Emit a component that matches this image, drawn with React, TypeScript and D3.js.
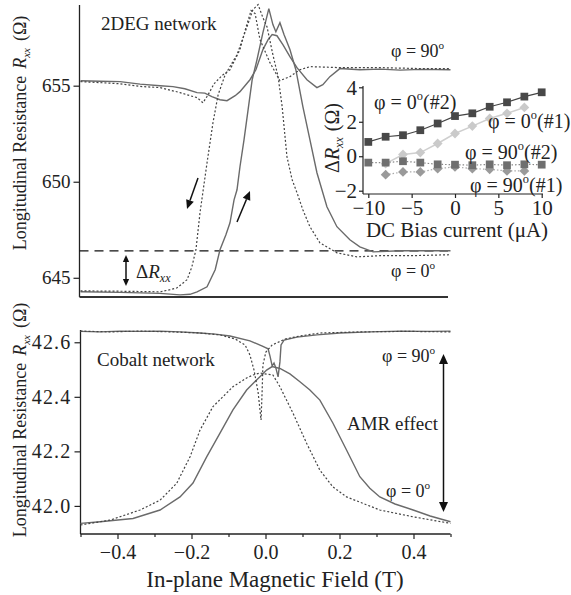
import React, { useEffect, useRef } from 'react';
import * as d3 from 'd3';

// ---- top panel (2DEG network), [B (T), Rxx (ohm)] ----
const top90Solid: [number, number][] = [
  [-0.5, 655.26], [-0.447, 655.23], [-0.393, 655.21], [-0.339, 655.08], [-0.285, 655.0],
  [-0.25, 654.95], [-0.218, 654.84], [-0.185, 654.64], [-0.164, 654.61], [-0.145, 654.43],
  [-0.123, 654.27], [-0.104, 654.22], [-0.082, 654.48], [-0.069, 654.69], [-0.042, 655.31],
  [-0.026, 655.83], [-0.007, 656.88], [0.007, 657.4], [0.018, 657.66], [0.031, 657.6],
  [0.047, 657.14], [0.066, 656.51], [0.085, 655.94], [0.112, 655.31], [0.139, 654.9],
  [0.155, 655.05], [0.174, 655.47], [0.201, 655.89], [0.255, 655.83], [0.31, 655.86],
  [0.364, 655.81], [0.42, 655.85], [0.5, 655.83],
];
const top90Dot: [number, number][] = [
  [-0.5, 655.21], [-0.447, 655.16], [-0.393, 655.1], [-0.339, 654.96], [-0.285, 654.9],
  [-0.231, 654.64], [-0.204, 654.48], [-0.185, 654.38], [-0.169, 654.11], [-0.155, 654.53],
  [-0.139, 655.1], [-0.118, 655.52], [-0.096, 655.83], [-0.069, 656.88], [-0.053, 658.02],
  [-0.039, 658.91], [-0.028, 658.75], [-0.015, 657.4], [0.012, 656.2], [0.039, 655.26],
  [0.066, 655.47], [0.093, 655.83], [0.12, 655.99], [0.201, 655.94], [0.309, 655.94],
  [0.418, 655.89], [0.5, 655.89],
];
const top0Dot: [number, number][] = [
  [-0.5, 644.32], [-0.393, 644.3], [-0.285, 644.27], [-0.258, 644.38], [-0.239, 644.48],
  [-0.212, 644.9], [-0.199, 645.57], [-0.188, 646.46], [-0.177, 648.39], [-0.158, 650.99],
  [-0.142, 653.07], [-0.128, 654.53], [-0.109, 655.57], [-0.077, 656.61], [-0.05, 658.07],
  [-0.034, 658.96], [-0.02, 659.22], [-0.007, 658.54], [0.004, 658.07], [0.02, 656.61],
  [0.034, 655.47], [0.045, 653.91], [0.058, 651.3], [0.072, 650.1], [0.085, 649.43],
  [0.101, 648.54], [0.12, 647.66], [0.147, 646.82], [0.193, 646.3], [0.247, 646.09],
  [0.309, 646.15], [0.39, 646.15], [0.5, 646.2],
];
const top0Solid: [number, number][] = [
  [-0.5, 644.27], [-0.393, 644.24], [-0.285, 644.19], [-0.231, 644.11], [-0.204, 644.14],
  [-0.185, 644.27], [-0.158, 644.53], [-0.136, 645.42], [-0.123, 646.46], [-0.107, 647.24],
  [-0.096, 647.86], [-0.085, 649.06], [-0.077, 649.58], [-0.069, 650.78], [-0.058, 652.19],
  [-0.047, 653.75], [-0.036, 655.31], [-0.023, 656.35], [-0.007, 657.76], [0.009, 659.01],
  [0.02, 658.18], [0.028, 657.81], [0.039, 658.28], [0.05, 657.66], [0.066, 656.88],
  [0.082, 655.83], [0.101, 653.91], [0.12, 652.19], [0.139, 650.47], [0.166, 648.7],
  [0.193, 647.66], [0.228, 646.98], [0.255, 646.61], [0.291, 646.35], [0.364, 646.41],
  [0.5, 646.41],
];
const deltaLevel = 646.4;

// ---- bottom panel (Cobalt network) ----
const bot90Solid: [number, number][] = [
  [-0.5, 42.64], [-0.447, 42.638], [-0.393, 42.641], [-0.339, 42.64], [-0.285, 42.641],
  [-0.231, 42.638], [-0.177, 42.634], [-0.136, 42.63], [-0.096, 42.623], [-0.042, 42.605],
  [-0.007, 42.585], [0.007, 42.576], [0.012, 42.55], [0.018, 42.513], [0.023, 42.524],
  [0.028, 42.506], [0.034, 42.473], [0.039, 42.528], [0.042, 42.59], [0.05, 42.608],
  [0.085, 42.619], [0.139, 42.627], [0.201, 42.634], [0.282, 42.638], [0.364, 42.641],
  [0.445, 42.64], [0.5, 42.641],
];
const bot90Dot: [number, number][] = [
  [-0.5, 42.641], [-0.42, 42.638], [-0.339, 42.641], [-0.25, 42.638], [-0.177, 42.634],
  [-0.123, 42.627], [-0.082, 42.612], [-0.055, 42.59], [-0.042, 42.553], [-0.031, 42.498],
  [-0.02, 42.417], [-0.012, 42.315], [-0.009, 42.425], [-0.007, 42.517], [0.001, 42.564],
  [0.018, 42.59], [0.053, 42.612], [0.093, 42.623], [0.147, 42.634], [0.255, 42.638],
  [0.38, 42.64], [0.5, 42.638],
];
const bot0Solid: [number, number][] = [
  [-0.5, 41.936], [-0.447, 41.942], [-0.358, 41.954], [-0.285, 41.985], [-0.231, 42.033],
  [-0.196, 42.084], [-0.159, 42.18], [-0.123, 42.267], [-0.088, 42.352], [-0.051, 42.425],
  [-0.015, 42.474], [0.003, 42.498], [0.018, 42.511], [0.039, 42.504], [0.066, 42.484],
  [0.093, 42.455], [0.12, 42.425], [0.147, 42.388], [0.182, 42.304], [0.219, 42.205],
  [0.255, 42.107], [0.282, 42.065], [0.309, 42.033], [0.35, 42.007], [0.399, 41.985],
  [0.445, 41.963], [0.5, 41.942],
];
const bot0Dot: [number, number][] = [
  [-0.5, 41.93], [-0.42, 41.948], [-0.339, 41.985], [-0.285, 42.021], [-0.24, 42.083],
  [-0.204, 42.18], [-0.177, 42.278], [-0.142, 42.364], [-0.088, 42.437], [-0.051, 42.469],
  [-0.034, 42.48], [-0.015, 42.487], [0.02, 42.48], [0.039, 42.437], [0.074, 42.341],
  [0.111, 42.23], [0.147, 42.131], [0.182, 42.07], [0.219, 42.033], [0.309, 41.985],
  [0.399, 41.96], [0.5, 41.936],
];

// ---- inset: Delta Rxx vs DC bias ----
const biasAll = [-10, -8, -6, -4, -2, 0, 2, 4, 6, 8, 10];
const biasInner = [-8, -6, -4, -2, 0, 2, 4, 6, 8];
const phi0n2 = [0.83, 1.13, 1.22, 1.51, 1.9, 2.33, 2.49, 2.87, 3.13, 3.46, 3.71];
const phi0n1 = [-0.43, 0.1, 0.21, 0.74, 1.32, 1.75, 2.19, 2.49, 2.83];
const phi90n2 = [-0.37, -0.37, -0.29, -0.37, -0.47, -0.49, -0.52, -0.47, -0.52, -0.47, -0.49];
const phi90n1 = [-1.07, -0.91, -0.91, -0.72, -0.62, -0.72, -0.76, -0.85, -0.85];

const font = '"Liberation Serif", "Times New Roman", serif';

const xMain = d3.scaleLinear().domain([-0.5, 0.5]).range([80.5, 450.5]);
const yTop = d3.scaleLinear().domain([644, 659.2]).range([297, 5]);
const yBot = d3.scaleLinear().domain([41.897, 42.645]).range([534, 330]);
const xIn = d3.scaleLinear().domain([-10, 10]).range([368.3, 541.7]);
const yIn = d3.scaleLinear().domain([-2, 4]).range([190.7, 87.3]);

const topLine = d3.line<[number, number]>().x((d) => xMain(d[0])).y((d) => yTop(d[1]));
const botLine = d3.line<[number, number]>().x((d) => xMain(d[0])).y((d) => yBot(d[1]));
const inLine = d3.line<[number, number]>().x((d) => xIn(d[0])).y((d) => yIn(d[1]));

const zip = (xs: number[], ys: number[]) => xs.map((x, i) => [x, ys[i]] as [number, number]);

function Phi({ x, y, angle, suffix, size }: { x: number; y: number; angle: string; suffix?: string; size: number }) {
  return (
    <text x={x} y={y} fontSize={size}>
      φ = {angle}
      <tspan dy={-0.45 * size} fontSize={size * 0.62}>o</tspan>
      {suffix ? <tspan dy={0.45 * size} fontSize={size}>{suffix}</tspan> : null}
    </text>
  );
}

function Arrow({ x1, y1, x2, y2, head = 9 }: { x1: number; y1: number; x2: number; y2: number; head?: number }) {
  const a = Math.atan2(y2 - y1, x2 - x1);
  const w = head * 0.45;
  const bx = x2 - head * Math.cos(a);
  const by = y2 - head * Math.sin(a);
  const p = `M${x2},${y2}L${bx + w * Math.sin(a)},${by - w * Math.cos(a)}L${bx - w * Math.sin(a)},${by + w * Math.cos(a)}Z`;
  return (
    <g>
      <line x1={x1} y1={y1} x2={bx} y2={by} stroke="#111" strokeWidth={1.5} />
      <path d={p} fill="#111" />
    </g>
  );
}

export default function App() {
  const ref = useRef<SVGGElement>(null);

  useEffect(() => {
    const g = d3.select(ref.current);
    const style = (sel: any, size: number) => {
      sel.selectAll('.domain').remove();
      sel.selectAll('line').attr('stroke', '#222').attr('stroke-width', 1.2);
      sel.selectAll('text').attr('font-family', font).attr('font-size', size).attr('fill', '#222');
    };
    const yt = g.select('.y-top').call(
      d3.axisLeft(yTop).tickValues([645, 650, 655]).tickSize(6).tickPadding(3).tickFormat(d3.format('d')) as any
    );
    style(yt, 19);
    const yb = g.select('.y-bot').call(
      d3.axisLeft(yBot).tickValues([42.0, 42.2, 42.4, 42.6]).tickSize(6).tickPadding(3).tickFormat(d3.format('.1f')) as any
    );
    style(yb, 20);
    yb.selectAll('text').attr('letter-spacing', 1.2);
    const xb = g.select('.x-bot').call(
      d3.axisBottom(xMain).tickValues([-0.4, -0.2, 0, 0.2, 0.4]).tickSize(5).tickPadding(6).tickFormat(d3.format('.1f')) as any
    );
    style(xb, 20);
    const xm = g.select('.x-minor').call(
      d3.axisBottom(xMain).tickValues([-0.5, -0.3, -0.1, 0.1, 0.3, 0.5]).tickSize(3).tickFormat(() => '') as any
    );
    style(xm, 10);
    const yi = g.select('.y-in').call(
      d3.axisLeft(yIn).tickValues([-2, 0, 2, 4]).tickSize(4).tickPadding(2).tickFormat(d3.format('d')) as any
    );
    style(yi, 21);
    const xi = g.select('.x-in').call(
      d3.axisBottom(xIn).tickValues([-10, -5, 0, 5, 10]).tickSize(4).tickPadding(2).tickFormat(d3.format('d')) as any
    );
    style(xi, 21);
  }, []);

  const curve = '#6a6a6a';
  const sq = d3.symbol().type(d3.symbolSquare).size(60)();
  const dm = d3.symbol().type(d3.symbolSquare).size(48)();

  return (
    <svg width={571} height={595} style={{ position: 'absolute', left: 0, top: 0, background: '#fff' }}
      fontFamily={font} fill="#222">
      <g ref={ref}>
        <g className="y-top" transform={`translate(${xMain(-0.5) - 1},0)`} />
        <g className="y-bot" transform={`translate(${xMain(-0.5)},0)`} />
        <g className="x-bot" transform="translate(0,534)" />
        <g className="x-minor" transform="translate(0,534)" />
        <g className="y-in" transform="translate(363,0)" />
        <g className="x-in" transform="translate(0,194)" />
      </g>

      {/* top panel frame */}
      <line x1={xMain(-0.5) - 1} x2={xMain(-0.5) - 1} y1={5} y2={297} stroke="#222" strokeWidth={1.3} />
      <line x1={xMain(-0.5) - 1} x2={448} y1={297} y2={297} stroke="#333" strokeWidth={1.8} />
      <line x1={xMain(-0.5) - 1} x2={448} y1={yTop(deltaLevel)} y2={yTop(deltaLevel)} stroke="#111"
        strokeWidth={1.2} strokeDasharray="9 6" />

      <g fill="none" strokeWidth={1.4}>
        <path d={topLine(top90Solid)!} stroke={curve} />
        <path d={topLine(top0Solid)!} stroke={curve} />
        <path d={topLine(top90Dot)!} stroke="#444" strokeDasharray="2 2" strokeWidth={1.2} />
        <path d={topLine(top0Dot)!} stroke="#444" strokeDasharray="2 2" strokeWidth={1.2} />
      </g>

      <text x={101} y={30} fontSize={19}>2DEG network</text>
      <Phi x={391} y={57} angle="90" size={18} />
      <Phi x={391} y={277} angle="0" size={18} />
      <Arrow x1={198} y1={178} x2={187} y2={209} />
      <Arrow x1={237} y1={222} x2={250} y2={191} />
      <Arrow x1={126} y1={270} x2={126} y2={255} head={7} />
      <Arrow x1={126} y1={270} x2={126} y2={286} head={7} />
      <text x={136} y={278} fontSize={19}>
        Δ<tspan fontStyle="italic">R</tspan>
        <tspan fontStyle="italic" fontSize={12} dy={4}>xx</tspan>
      </text>

      <text transform="translate(26,133) rotate(-90)" textAnchor="middle" fontSize={18}>
        Longitudinal Resistance
        <tspan dx={7} fontStyle="italic">R</tspan>
        <tspan fontStyle="italic" fontSize={11} dy={4}>xx</tspan>
        <tspan dx={7} dy={-4}>(Ω)</tspan>
      </text>

      {/* inset */}
      <line x1={363} x2={363} y1={86} y2={194} stroke="#222" strokeWidth={1.2} />
      <line x1={363} x2={543} y1={194} y2={194} stroke="#222" strokeWidth={1.2} />
      <g fill="none" strokeWidth={1.2}>
        <path d={inLine(zip(biasAll, phi0n2))!} stroke="#444" />
        <path d={inLine(zip(biasInner, phi0n1))!} stroke="#cfcfcf" strokeWidth={1.5} />
        <path d={inLine(zip(biasAll, phi90n2))!} stroke="#888" strokeDasharray="1.5 2" />
        <path d={inLine(zip(biasInner, phi90n1))!} stroke="#aaa" strokeDasharray="1.5 2" />
      </g>
      {zip(biasInner, phi0n1).map((d, i) => (
        <path key={'a' + i} d={dm!} transform={`translate(${xIn(d[0])},${yIn(d[1])}) rotate(45)`} fill="#cacaca" />
      ))}
      {zip(biasInner, phi90n1).map((d, i) => (
        <path key={'b' + i} d={dm!} transform={`translate(${xIn(d[0])},${yIn(d[1])}) rotate(45)`} fill="#9a9a9a" />
      ))}
      {zip(biasAll, phi90n2).map((d, i) => (
        <path key={'c' + i} d={sq!} transform={`translate(${xIn(d[0])},${yIn(d[1])})`} fill="#6f6f6f" />
      ))}
      {zip(biasAll, phi0n2).map((d, i) => (
        <path key={'e' + i} d={sq!} transform={`translate(${xIn(d[0])},${yIn(d[1])})`} fill="#484848" />
      ))}
      <Phi x={374} y={109} angle="0" suffix="(#2)" size={20} />
      <Phi x={488} y={128} angle="0" suffix="(#1)" size={20} />
      <Phi x={465} y={159} angle="90" suffix="(#2)" size={20} />
      <Phi x={470} y={192} angle="90" suffix="(#1)" size={20} />
      <text x={457} y={237} fontSize={21} textAnchor="middle">DC Bias current (μA)</text>
      <text transform="translate(339,138) rotate(-90)" textAnchor="middle" fontSize={20}>
        Δ<tspan fontStyle="italic">R</tspan>
        <tspan fontStyle="italic" fontSize={12} dy={4}>xx</tspan>
        <tspan dx={6} dy={-4}>(Ω)</tspan>
      </text>

      {/* bottom panel */}
      <line x1={xMain(-0.5)} x2={xMain(-0.5)} y1={330} y2={534} stroke="#222" strokeWidth={1.3} />
      <line x1={xMain(-0.5)} x2={xMain(0.5)} y1={534} y2={534} stroke="#222" strokeWidth={1.3} />
      <g fill="none" strokeWidth={1.4}>
        <path d={botLine(bot90Solid)!} stroke={curve} />
        <path d={botLine(bot0Solid)!} stroke={curve} />
        <path d={botLine(bot90Dot)!} stroke="#444" strokeDasharray="2 2" strokeWidth={1.2} />
        <path d={botLine(bot0Dot)!} stroke="#444" strokeDasharray="2 2" strokeWidth={1.2} />
      </g>
      <text x={97} y={366} fontSize={19}>Cobalt network</text>
      <Phi x={382} y={362} angle="90" size={18} />
      <Phi x={386} y={497} angle="0" size={18} />
      <text x={347} y={430} fontSize={19}>AMR effect</text>
      <Arrow x1={443.5} y1={430} x2={443.5} y2={354} head={10} />
      <Arrow x1={443.5} y1={430} x2={443.5} y2={512} head={10} />

      <text transform="translate(26,420) rotate(-90)" textAnchor="middle" fontSize={18}>
        Longitudinal Resistance
        <tspan dx={7} fontStyle="italic">R</tspan>
        <tspan fontStyle="italic" fontSize={11} dy={4}>xx</tspan>
        <tspan dx={7} dy={-4}>(Ω)</tspan>
      </text>
      <text x={275} y={587} fontSize={23} textAnchor="middle">In-plane Magnetic Field (T)</text>
    </svg>
  );
}
